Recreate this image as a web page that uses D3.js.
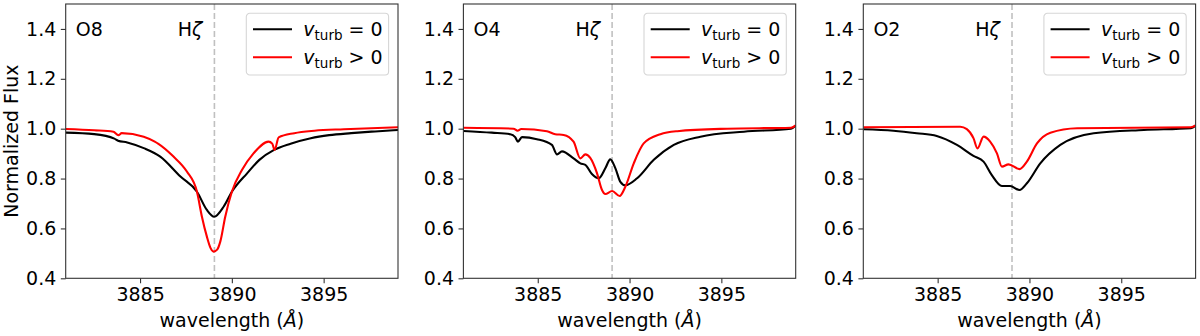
<!DOCTYPE html>
<html>
<head>
<meta charset="utf-8">
<script src="https://cdn.jsdelivr.net/npm/d3@7"></script>
<style>
  body { margin: 0; background: #fff; }
  text { font-family: "DejaVu Sans", sans-serif; fill: #000; }
</style>
</head>
<body>
<script>
// spectra: [wavelength (A), normalized flux]
const o8Still = [
  [3880.95, 0.984], [3882.5, 0.978], [3883.6, 0.960], [3883.8, 0.952], [3884.3, 0.945],
  [3885.2, 0.922], [3886.1, 0.888], [3887.2, 0.808], [3888.1, 0.747], [3888.64, 0.674],
  [3889.04, 0.647], [3889.55, 0.687], [3890.0, 0.747], [3890.83, 0.821], [3891.5, 0.875],
  [3892.3, 0.915], [3893.2, 0.940], [3894.3, 0.962], [3895.3, 0.974], [3896.5, 0.982],
  [3897.8, 0.989], [3899.05, 0.995]
];
const o8Turb = [
  [3880.95, 0.999], [3882.5, 0.994], [3883.55, 0.988], [3883.82, 0.974], [3884.0, 0.982],
  [3885.2, 0.968], [3885.8, 0.948], [3886.0, 0.939], [3886.82, 0.888], [3887.55, 0.828],
  [3888.1, 0.747], [3888.37, 0.647], [3888.64, 0.567], [3888.85, 0.52], [3889.0, 0.507],
  [3889.2, 0.515], [3889.37, 0.547], [3889.64, 0.647], [3890.0, 0.747], [3890.55, 0.834],
  [3891.18, 0.901], [3892.0, 0.948], [3892.2, 0.940], [3892.33, 0.915], [3892.55, 0.965],
  [3893.4, 0.982], [3894.5, 0.992], [3896.1, 0.998], [3899.05, 1.006]
];
const o4Still = [
  [3880.95, 0.991], [3882.5, 0.984], [3883.5, 0.978], [3883.77, 0.966], [3883.92, 0.948],
  [3884.14, 0.966], [3884.95, 0.958], [3885.77, 0.935], [3886.05, 0.897], [3886.32, 0.909],
  [3886.95, 0.881], [3887.32, 0.861], [3887.59, 0.855], [3887.95, 0.818], [3888.32, 0.801],
  [3888.68, 0.841], [3888.95, 0.877], [3889.23, 0.841], [3889.5, 0.787], [3889.77, 0.773],
  [3890.41, 0.801], [3891.32, 0.875], [3892.41, 0.935], [3893.86, 0.968], [3896.23, 0.988],
  [3898.8, 1.000], [3899.05, 1.012]
];
const o4Turb = [
  [3880.95, 1.004], [3883.68, 1.000], [3883.9, 0.992], [3884.1, 0.999], [3885.5, 0.990],
  [3885.95, 0.978], [3886.41, 0.975], [3886.95, 0.948], [3887.32, 0.881], [3887.59, 0.897],
  [3887.86, 0.883], [3888.23, 0.821], [3888.5, 0.754], [3888.68, 0.738], [3889.05, 0.750],
  [3889.46, 0.730], [3889.77, 0.767], [3890.23, 0.861], [3890.77, 0.941], [3891.68, 0.978],
  [3892.6, 0.990], [3895.32, 1.000], [3898.8, 1.004], [3899.05, 1.013]
];
const o2Still = [
  [3880.95, 0.998], [3882.59, 0.992], [3883.86, 0.982], [3884.95, 0.971], [3886.05, 0.935],
  [3886.95, 0.891], [3887.5, 0.868], [3887.95, 0.814], [3888.5, 0.770], [3888.95, 0.770],
  [3889.46, 0.754], [3889.86, 0.781], [3890.59, 0.861], [3891.68, 0.935], [3893.5, 0.982],
  [3896.23, 0.995], [3898.8, 1.002], [3899.05, 1.012]
];
const o2Turb = [
  [3880.95, 1.006], [3886.23, 1.008], [3886.59, 0.998], [3886.95, 0.962], [3887.17, 0.921],
  [3887.5, 0.968], [3887.86, 0.948], [3888.23, 0.901], [3888.5, 0.848], [3888.86, 0.857],
  [3889.46, 0.838], [3889.86, 0.868], [3890.41, 0.941], [3891.14, 0.984], [3892.6, 1.002],
  [3898.8, 1.006], [3899.05, 1.013]
];

const panelNames = ["O8", "O4", "O2"];
const stillSeries = [o8Still, o4Still, o2Still];
const turbSeries = [o8Turb, o4Turb, o2Turb];
const xTicks = [3885, 3890, 3895];
const yTicks = [0.4, 0.6, 0.8, 1.0, 1.2, 1.4];
const hZeta = 3889.05;

const width = 1200, height = 336;
const panelLeft = [65.7, 463.4, 863.3];
const panelW = 332.3;
const plotTop = 4, plotBottom = 278.3;
const fs = 19;

const svg = d3.select("body").append("svg")
  .attr("width", width)
  .attr("height", height);

const x = d3.scaleLinear().domain([3880.95, 3899.05]).range([0, panelW]);
const y = d3.scaleLinear().domain([0.4, 1.5]).range([plotBottom, plotTop]);

const line = d3.line()
  .x(d => x(d[0]))
  .y(d => y(d[1]))
  .curve(d3.curveMonotoneX);

panelNames.forEach((name, i) => {
  const g = svg.append("g").attr("transform", `translate(${panelLeft[i]},0)`);

  // clip so the curves stay in the frame
  g.append("clipPath").attr("id", "clip" + i)
    .append("rect").attr("x", 0).attr("y", plotTop).attr("width", panelW).attr("height", plotBottom - plotTop);

  const plot = g.append("g").attr("clip-path", `url(#clip${i})`);

  plot.append("line")
    .attr("x1", x(hZeta)).attr("x2", x(hZeta))
    .attr("y1", plotTop).attr("y2", plotBottom)
    .attr("stroke", "#c0c0c0")
    .attr("stroke-width", 1.6)
    .attr("stroke-dasharray", "6,3");

  plot.append("path").datum(stillSeries[i])
    .attr("d", line)
    .attr("fill", "none").attr("stroke", "#000").attr("stroke-width", 2.1);

  plot.append("path").datum(turbSeries[i])
    .attr("d", line)
    .attr("fill", "none").attr("stroke", "#ff0000").attr("stroke-width", 2.1);

  // axes
  const xAxis = d3.axisBottom(x).tickValues(xTicks).tickSize(4.9).tickPadding(4.5)
    .tickFormat(d3.format("d"));
  const yAxis = d3.axisLeft(y).tickValues(yTicks).tickSize(4.9).tickPadding(4.5)
    .tickFormat(d3.format(".1f"));

  const gx = g.append("g").attr("transform", `translate(0,${plotBottom})`).call(xAxis);
  const gy = g.append("g").call(yAxis);
  [gx, gy].forEach(a => {
    a.select(".domain").remove();
    a.selectAll(".tick line").attr("stroke", "#333").attr("stroke-width", 1.1);
    a.selectAll(".tick text").style("font-size", fs + "px").attr("fill", "#000");
  });

  g.append("rect")
    .attr("x", 0).attr("y", plotTop).attr("width", panelW).attr("height", plotBottom - plotTop)
    .attr("fill", "none").attr("stroke", "#333").attr("stroke-width", 1.1);

  // labels
  g.append("text")
    .attr("x", x(3881.5)).attr("y", y(1.372))
    .style("font-size", fs + "px")
    .text(name);

  const hz = g.append("text")
    .attr("x", x(3887.05)).attr("y", y(1.372))
    .style("font-size", fs + "px");
  hz.append("tspan").text("H");
  hz.append("tspan").style("font-style", "italic").text("ζ");

  g.append("text")
    .attr("x", panelW / 2).attr("y", 327)
    .attr("text-anchor", "middle")
    .style("font-size", fs + "px")
    .call(t => {
      t.append("tspan").text("wavelength (");
      t.append("tspan").style("font-style", "italic").text("Å");
      t.append("tspan").text(")");
    });

  // legend
  const lg = g.append("g").attr("transform", `translate(${panelW - 151.7},13.3)`);
  lg.append("rect")
    .attr("width", 142.3).attr("height", 61.7)
    .attr("rx", 3.5)
    .attr("fill", "#fff").attr("fill-opacity", 0.8)
    .attr("stroke", "#d6d6d6").attr("stroke-width", 1.1);
  const rows = [{ c: "#000", sym: "= 0" }, { c: "#ff0000", sym: "> 0" }];
  rows.forEach((r, k) => {
    const cy = 16 + k * 28;
    lg.append("line")
      .attr("x1", 6.7).attr("x2", 45.7).attr("y1", cy).attr("y2", cy)
      .attr("stroke", r.c).attr("stroke-width", 2.1);
    const t = lg.append("text")
      .attr("x", 57).attr("y", cy + 7)
      .style("font-size", fs + "px");
    t.append("tspan").style("font-style", "italic").text("v");
    t.append("tspan").attr("dy", 4).style("font-size", "13.5px").text("turb");
    t.append("tspan").attr("dy", -4).text(" " + r.sym);
  });
});

svg.append("text")
  .attr("transform", `translate(18,${(plotTop + plotBottom) / 2}) rotate(-90)`)
  .attr("text-anchor", "middle")
  .style("font-size", fs + "px")
  .text("Normalized Flux");
</script>
</body>
</html>
